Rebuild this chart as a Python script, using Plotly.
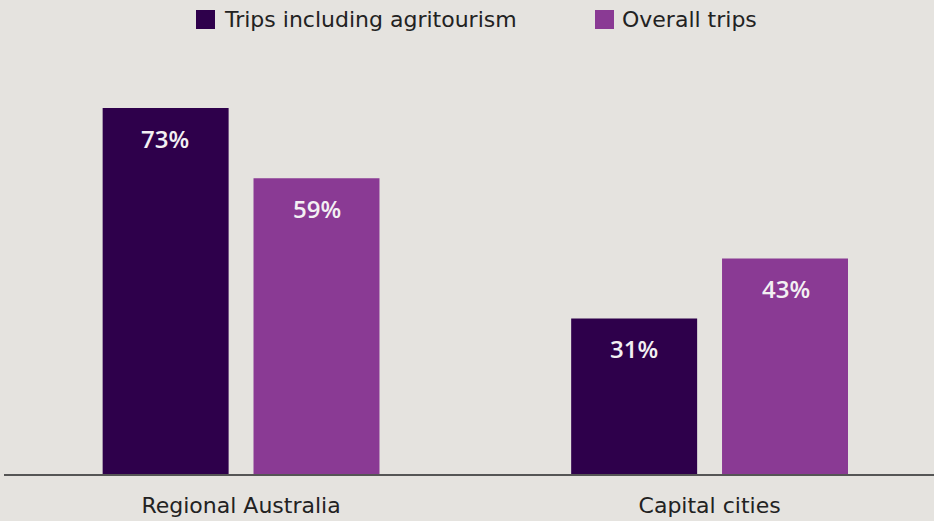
import plotly.graph_objects as go

categories = ["Regional Australia", "Capital cities"]
series_names = ["Trips including agritourism", "Overall trips"]
agri_values = [73, 31]
overall_values = [59, 43]

colors = ["#2e004b", "#8a3a94"]
bg = "#e5e3df"
font_family = "'DejaVu Sans', 'Open Sans', sans-serif"
label_family = "'Open Sans', 'Noto Sans', sans-serif"
text_color = "#222222"

# plot-area geometry in pixels (for converting legend positions to paper coords)
W, H, L, T = 934, 521, 4, 73
PW, PH = W - L, 474 - T


def px_x(p):
    return (p - L) / PW


def px_y(p):
    return (T + PH - p) / PH


fig = go.Figure()
for name, vals, col in zip(series_names, [agri_values, overall_values], colors):
    fig.add_trace(go.Bar(
        x=categories, y=vals, name=name,
        marker=dict(color=col, line=dict(width=0)),
        hoverinfo="skip", showlegend=False,
    ))

# value labels inside bars
offsets = [-76, 76]
for vals, dx in zip([agri_values, overall_values], offsets):
    for cat, v in zip(categories, vals):
        fig.add_annotation(
            x=cat, y=v, xref="x", yref="y", text=f"{v}%",
            showarrow=False, xshift=dx, yshift=-30, yanchor="middle",
            font=dict(family=label_family, size=24, color="#f3f0f3", weight=600),
        )

# legend (squares + labels)
legend_items = [(196, 222), (595, 620)]
for (sq_x, tx), name, col in zip(legend_items, series_names, colors):
    fig.add_shape(
        type="rect", xref="paper", yref="paper",
        x0=px_x(sq_x), x1=px_x(sq_x + 19), y0=px_y(29), y1=px_y(10),
        fillcolor=col, line=dict(width=0),
    )
    fig.add_annotation(
        x=px_x(tx), y=px_y(19.5), xref="paper", yref="paper", text=name,
        showarrow=False, xanchor="left", yanchor="middle",
        font=dict(family=font_family, size=22, color=text_color),
    )

fig.update_layout(
    width=W, height=H,
    paper_bgcolor=bg, plot_bgcolor=bg,
    margin=dict(l=L, r=0, t=T, b=H - 474),
    barmode="group", bargap=0.356, bargroupgap=0.165,
    font=dict(family=font_family, color=text_color),
    showlegend=False,
    xaxis=dict(
        range=[-0.506, 1.479], showline=True, linecolor="#555555", linewidth=2,
        showgrid=False, zeroline=False, ticks="outside", ticklen=11,
        tickcolor="rgba(0,0,0,0)", tickfont=dict(size=22, color=text_color),
        fixedrange=True,
    ),
    yaxis=dict(range=[0, 80], visible=False, showgrid=False, zeroline=False, fixedrange=True),
)

fig.write_html(
    "out.html",
    config={"displayModeBar": False},
    post_script="document.body.style.margin='0';document.body.style.overflow='hidden';"
                "document.body.style.background='" + bg + "';",
)
